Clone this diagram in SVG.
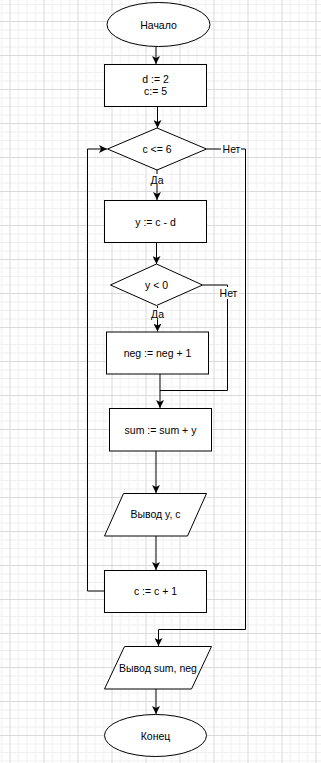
<svg xmlns="http://www.w3.org/2000/svg" width="321" height="763" viewBox="0 0 321 763">
<style>
.shape{fill:#ffffff;stroke:#000000;stroke-width:1}
.conn{fill:none;stroke:#000000;stroke-width:1}
.lbl{font-family:"Liberation Sans",Arial,sans-serif;font-size:10.5px;fill:#000000;text-anchor:middle;dominant-baseline:central}
.minor{fill:#f0f0f0}
.major{fill:#dadada}
</style>
<defs>
<pattern id="grid" patternUnits="userSpaceOnUse" x="9.5" y="21" width="34" height="34">
<rect class="minor" x="8.5" y="0" width="1" height="34"/>
<rect class="minor" x="17" y="0" width="1" height="34"/>
<rect class="minor" x="25.5" y="0" width="1" height="34"/>
<rect class="minor" x="0" y="8.5" width="34" height="1"/>
<rect class="minor" x="0" y="17" width="34" height="1"/>
<rect class="minor" x="0" y="25.5" width="34" height="1"/>
<rect class="major" x="0" y="0" width="1" height="34"/>
<rect class="major" x="0" y="0" width="34" height="1"/>
</pattern>
<marker id="arr" markerWidth="10" markerHeight="8" refX="8" refY="4" orient="auto" markerUnits="userSpaceOnUse">
<path d="M0,0 L8,4 L0,8 L2,4 Z" fill="#000000"/>
</marker>
</defs>
<rect x="0" y="0" width="321" height="763" fill="#ffffff"/>
<rect x="0" y="0" width="321" height="763" fill="url(#grid)"/>

<g id="connectors">
<path class="conn" d="M156,47 L156,64" marker-end="url(#arr)"/>
<path class="conn" d="M157.5,107 L157.5,128" marker-end="url(#arr)"/>
<path class="conn" d="M157,170 L157,200" marker-end="url(#arr)"/>
<path class="conn" d="M156.5,242 L156.5,264" marker-end="url(#arr)"/>
<path class="conn" d="M157.5,306 L157.5,331.5" marker-end="url(#arr)"/>
<path class="conn" d="M202.5,285 L227.5,285 L227.5,390.5 L160,390.5"/>
<path class="conn" d="M160,374 L160,408" marker-end="url(#arr)"/>
<path class="conn" d="M156,451 L156,493" marker-end="url(#arr)"/>
<path class="conn" d="M156,536 L156,570" marker-end="url(#arr)"/>
<path class="conn" d="M104.5,591 L87.5,591 L87.5,149 L107,149" marker-end="url(#arr)"/>
<path class="conn" d="M206.5,149 L245.5,149 L245.5,629.5 L158.5,629.5 L158.5,646" marker-end="url(#arr)"/>
<path class="conn" d="M156,689 L156,714" marker-end="url(#arr)"/>
<rect x="150" y="174" width="15" height="12" fill="#ffffff"/>
<text class="lbl" x="157" y="180">Да</text>
<rect x="150" y="308" width="15" height="12" fill="#ffffff"/>
<text class="lbl" x="157.5" y="314">Да</text>
<rect x="221" y="143" width="20" height="12" fill="#ffffff"/>
<text class="lbl" x="231.5" y="149">Нет</text>
<rect x="218" y="287" width="21" height="12" fill="#ffffff"/>
<text class="lbl" x="228.5" y="293">Нет</text>
</g>

<g id="start">
<ellipse class="shape" cx="158.5" cy="24.5" rx="51.5" ry="22"/>
<text class="lbl" x="158.5" y="24.5">Начало</text>
</g>
<g id="init">
<rect class="shape" x="104.5" y="64.5" width="102" height="42"/>
<text class="lbl" x="155.5" y="78.5">d := 2</text>
<text class="lbl" x="155.5" y="90.5">c:= 5</text>
</g>
<g id="cond1">
<polygon class="shape" points="157,128 206.5,149 157,170 107.5,149"/>
<text class="lbl" x="157" y="149">c &lt;= 6</text>
</g>
<g id="calc_y">
<rect class="shape" x="104.5" y="200.5" width="102" height="42"/>
<text class="lbl" x="155.5" y="221.5">y := c - d</text>
</g>
<g id="cond2">
<polygon class="shape" points="156.5,264 202.5,285 156.5,305.5 110.5,285"/>
<text class="lbl" x="156.5" y="285">y &lt; 0</text>
</g>
<g id="inc_neg">
<rect class="shape" x="106.5" y="332" width="102" height="42"/>
<text class="lbl" x="157.5" y="353">neg := neg + 1</text>
</g>
<g id="sum">
<rect class="shape" x="109.5" y="408.5" width="102" height="42.5"/>
<text class="lbl" x="160.5" y="429.5">sum := sum + y</text>
</g>
<g id="out1">
<polygon class="shape" points="123.5,493.5 206.5,493.5 187.5,536 104.5,536"/>
<text class="lbl" x="155.5" y="514">Вывод y, c</text>
</g>
<g id="inc_c">
<rect class="shape" x="104.5" y="570.5" width="102" height="42"/>
<text class="lbl" x="155.5" y="590.5">c := c + 1</text>
</g>
<g id="out2">
<polygon class="shape" points="124.5,646.5 211.5,646.5 191.5,689 104.5,689"/>
<text class="lbl" x="158" y="667.5">Вывод sum, neg</text>
</g>
<g id="end">
<ellipse class="shape" cx="155.5" cy="735.5" rx="51" ry="21"/>
<text class="lbl" x="155.5" y="735.5">Конец</text>
</g>
</svg>
